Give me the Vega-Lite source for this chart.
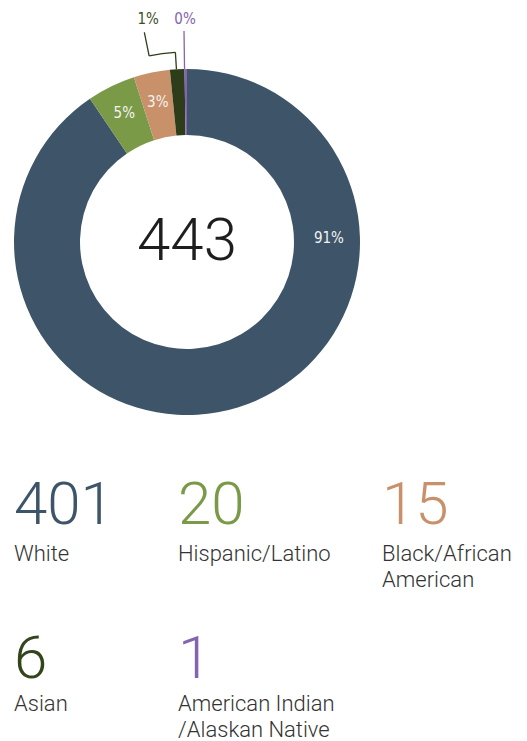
{
  "$schema": "https://vega.github.io/schema/vega-lite/v6.json",
  "padding": {"left": 14, "top": 12, "right": 0, "bottom": 0},
  "background": "white",
  "config": {"view": {"stroke": null}},
  "datasets": {
    "races": [
      {"race": "White", "count": 401, "pctLabel": "91%", "label": "White"},
      {"race": "Hispanic/Latino", "count": 20, "pctLabel": "5%", "label": "Hispanic/Latino"},
      {"race": "Black/African American", "count": 15, "pctLabel": "3%", "label": "Black/African\nAmerican"},
      {"race": "Asian", "count": 6, "pctLabel": "1%", "label": "Asian"},
      {"race": "American Indian/Alaskan Native", "count": 1, "pctLabel": "0%", "label": "American Indian\n/Alaskan Native"}
    ]
  },
  "data": {"name": "races"},
  "spacing": 14,
  "vconcat": [
    {
      "width": 346,
      "height": 346,
      "layer": [
        {
          "encoding": {
            "theta": {"field": "count", "type": "quantitative", "stack": true},
            "order": {"field": "count", "type": "quantitative", "sort": "descending"},
            "detail": {"field": "race", "type": "nominal"}
          },
          "layer": [
            {
              "mark": {"type": "arc", "outerRadius": 173, "innerRadius": 107},
              "encoding": {
                "color": {
                  "field": "race", "type": "nominal", "legend": null,
                  "scale": {
                    "domain": ["White", "Hispanic/Latino", "Black/African American", "Asian", "American Indian/Alaskan Native"],
                    "range": ["#3e5468", "#7a9a47", "#c8916a", "#2d3c19", "#8563b0"]
                  }
                }
              }
            },
            {
              "mark": {"type": "text", "radius": 143, "font": "DejaVu Sans Condensed", "fontSize": 15, "color": "#f2f2f2", "baseline": "middle"},
              "encoding": {"text": {"condition": {"test": "datum.race === 'Hispanic/Latino' || datum.race === 'Black/African American'", "field": "pctLabel"}, "value": ""}}
            },
            {
              "mark": {"type": "text", "radius": 142, "thetaOffset": -1.3003, "font": "DejaVu Sans Condensed", "fontSize": 15, "color": "#f2f2f2", "baseline": "middle"},
              "encoding": {"text": {"condition": {"test": "datum.race === 'White'", "field": "pctLabel"}, "value": ""}}
            }
          ]
        },
        {
          "transform": [
            {"stack": "count", "groupby": [], "sort": [{"field": "count", "order": "descending"}], "as": ["t0", "t1"]},
            {"filter": "datum.race === 'Asian'"}
          ],
          "encoding": {
            "theta": {"field": "t0", "type": "quantitative", "stack": null}
          },
          "layer": [
            {
              "mark": {"type": "arc", "outerRadius": 190, "innerRadius": 173, "thetaOffset": 0.0382, "theta2Offset": 0.0382, "stroke": "#2d3c19", "strokeWidth": 1.3, "fill": null},
              "encoding": {"theta2": {"field": "t0"}}
            },
            {
              "mark": {"type": "arc", "outerRadius": 190, "innerRadius": 190, "thetaOffset": -0.1014, "theta2Offset": 0.0382, "stroke": "#2d3c19", "strokeWidth": 1.3, "fill": null},
              "encoding": {"theta2": {"field": "t0"}}
            },
            {
              "mark": {"type": "arc", "outerRadius": 214, "innerRadius": 190, "thetaOffset": -0.1014, "theta2Offset": -0.1014, "stroke": "#2d3c19", "strokeWidth": 1.3, "fill": null},
              "encoding": {"theta2": {"field": "t0"}}
            },
            {
              "mark": {"type": "text", "radius": 226, "thetaOffset": -0.0738, "font": "DejaVu Sans Condensed", "fontSize": 15, "color": "#3e4e27", "baseline": "middle"},
              "encoding": {"text": {"field": "pctLabel"}}
            }
          ]
        },
        {
          "transform": [
            {"stack": "count", "groupby": [], "sort": [{"field": "count", "order": "descending"}], "as": ["t0", "t1"]},
            {"filter": "datum.race === 'American Indian/Alaskan Native'"}
          ],
          "encoding": {
            "theta": {"field": "t0", "type": "quantitative", "stack": null}
          },
          "layer": [
            {
              "mark": {"type": "arc", "outerRadius": 211, "innerRadius": 173, "stroke": "#8563b0", "strokeWidth": 1.3, "fill": null},
              "encoding": {"theta2": {"field": "t0"}}
            },
            {
              "mark": {"type": "text", "radius": 223, "thetaOffset": 0.0052, "font": "DejaVu Sans Condensed", "fontSize": 15, "color": "#8563b0", "baseline": "middle"},
              "encoding": {"text": {"field": "pctLabel"}}
            }
          ]
        },
        {
          "transform": [{"aggregate": [{"op": "sum", "field": "count", "as": "total"}]}],
          "mark": {"type": "text", "font": "Roboto", "fontWeight": 300, "fontSize": 60, "color": "#1e1e1e", "baseline": "middle"},
          "encoding": {"text": {"field": "total", "type": "quantitative"}}
        }
      ]
    },
    {
      "spacing": 0,
      "hconcat": [
        {
          "width": 164, "height": 167,
          "transform": [{"filter": "datum.race === 'White'"}],
          "encoding": {
            "x": {"field": "race", "type": "nominal", "axis": null, "scale": {"type": "band", "paddingInner": 0, "paddingOuter": 0}, "bandPosition": 0},
            "y": {"field": "race", "type": "nominal", "axis": null, "scale": {"type": "band", "paddingInner": 0, "paddingOuter": 0}, "bandPosition": 0}
          },
          "layer": [
            {"mark": {"type": "text", "align": "left", "baseline": "alphabetic", "dy": 95, "font": "Roboto", "fontWeight": 300, "fontSize": 60, "color": "#3e5468"}, "encoding": {"text": {"field": "count", "type": "quantitative"}}},
            {"mark": {"type": "text", "align": "left", "baseline": "alphabetic", "dy": 132, "font": "Roboto", "fontWeight": 300, "fontSize": 22, "color": "#333333", "lineBreak": "\n", "lineHeight": 26}, "encoding": {"text": {"field": "label", "type": "nominal"}}}
          ]
        },
        {
          "width": 204, "height": 167,
          "transform": [{"filter": "datum.race === 'Hispanic/Latino'"}],
          "encoding": {
            "x": {"field": "race", "type": "nominal", "axis": null, "scale": {"type": "band", "paddingInner": 0, "paddingOuter": 0}, "bandPosition": 0},
            "y": {"field": "race", "type": "nominal", "axis": null, "scale": {"type": "band", "paddingInner": 0, "paddingOuter": 0}, "bandPosition": 0}
          },
          "layer": [
            {"mark": {"type": "text", "align": "left", "baseline": "alphabetic", "dy": 95, "font": "Roboto", "fontWeight": 300, "fontSize": 60, "color": "#7a9a47"}, "encoding": {"text": {"field": "count", "type": "quantitative"}}},
            {"mark": {"type": "text", "align": "left", "baseline": "alphabetic", "dy": 132, "font": "Roboto", "fontWeight": 300, "fontSize": 22, "color": "#333333", "lineBreak": "\n", "lineHeight": 26}, "encoding": {"text": {"field": "label", "type": "nominal"}}}
          ]
        },
        {
          "width": 145, "height": 167,
          "transform": [{"filter": "datum.race === 'Black/African American'"}],
          "encoding": {
            "x": {"field": "race", "type": "nominal", "axis": null, "scale": {"type": "band", "paddingInner": 0, "paddingOuter": 0}, "bandPosition": 0},
            "y": {"field": "race", "type": "nominal", "axis": null, "scale": {"type": "band", "paddingInner": 0, "paddingOuter": 0}, "bandPosition": 0}
          },
          "layer": [
            {"mark": {"type": "text", "align": "left", "baseline": "alphabetic", "dy": 95, "font": "Roboto", "fontWeight": 300, "fontSize": 60, "color": "#c8916a"}, "encoding": {"text": {"field": "count", "type": "quantitative"}}},
            {"mark": {"type": "text", "align": "left", "baseline": "alphabetic", "dy": 132, "font": "Roboto", "fontWeight": 300, "fontSize": 22, "color": "#333333", "lineBreak": "\n", "lineHeight": 26}, "encoding": {"text": {"field": "label", "type": "nominal"}}}
          ]
        }
      ]
    },
    {
      "spacing": 0,
      "hconcat": [
        {
          "width": 164, "height": 132,
          "transform": [{"filter": "datum.race === 'Asian'"}],
          "encoding": {
            "x": {"field": "race", "type": "nominal", "axis": null, "scale": {"type": "band", "paddingInner": 0, "paddingOuter": 0}, "bandPosition": 0},
            "y": {"field": "race", "type": "nominal", "axis": null, "scale": {"type": "band", "paddingInner": 0, "paddingOuter": 0}, "bandPosition": 0}
          },
          "layer": [
            {"mark": {"type": "text", "align": "left", "baseline": "alphabetic", "dy": 68, "font": "Roboto", "fontWeight": 300, "fontSize": 60, "color": "#33451c"}, "encoding": {"text": {"field": "count", "type": "quantitative"}}},
            {"mark": {"type": "text", "align": "left", "baseline": "alphabetic", "dy": 101, "font": "Roboto", "fontWeight": 300, "fontSize": 22, "color": "#333333", "lineBreak": "\n", "lineHeight": 26}, "encoding": {"text": {"field": "label", "type": "nominal"}}}
          ]
        },
        {
          "width": 204, "height": 132,
          "transform": [{"filter": "datum.race === 'American Indian/Alaskan Native'"}],
          "encoding": {
            "x": {"field": "race", "type": "nominal", "axis": null, "scale": {"type": "band", "paddingInner": 0, "paddingOuter": 0}, "bandPosition": 0},
            "y": {"field": "race", "type": "nominal", "axis": null, "scale": {"type": "band", "paddingInner": 0, "paddingOuter": 0}, "bandPosition": 0}
          },
          "layer": [
            {"mark": {"type": "text", "align": "left", "baseline": "alphabetic", "dy": 68, "font": "Roboto", "fontWeight": 300, "fontSize": 60, "color": "#8563b0"}, "encoding": {"text": {"field": "count", "type": "quantitative"}}},
            {"mark": {"type": "text", "align": "left", "baseline": "alphabetic", "dy": 101, "font": "Roboto", "fontWeight": 300, "fontSize": 22, "color": "#333333", "lineBreak": "\n", "lineHeight": 26}, "encoding": {"text": {"field": "label", "type": "nominal"}}}
          ]
        }
      ]
    }
  ]
}
